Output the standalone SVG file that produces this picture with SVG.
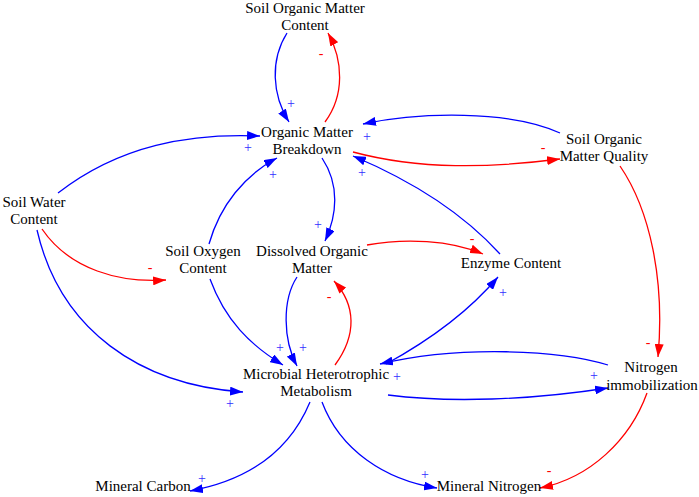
<svg xmlns="http://www.w3.org/2000/svg" width="699" height="497" viewBox="0 0 699 497">
<style>
.n{font-family:"Liberation Serif","Times New Roman",serif;font-size:15px;fill:#000;text-anchor:middle}
.b{fill:none;stroke:#0000ff;stroke-width:1.3;marker-end:url(#ab)}
.r{fill:none;stroke:#ff0000;stroke-width:1.3;marker-end:url(#ar)}
.p{font-family:"Liberation Serif","Times New Roman",serif;font-size:14px;fill:#3030ff;text-anchor:middle}
.m{font-family:"Liberation Serif","Times New Roman",serif;font-size:14px;fill:#ff0000;text-anchor:middle}
</style>
<defs>
<marker id="ab" viewBox="0 0 13 9" markerWidth="13" markerHeight="9" refX="13" refY="4.5" orient="auto" markerUnits="userSpaceOnUse"><path d="M0,0 L13,4.5 L0,9 z" fill="#0000ff"/></marker>
<marker id="ar" viewBox="0 0 13 9" markerWidth="13" markerHeight="9" refX="13" refY="4.5" orient="auto" markerUnits="userSpaceOnUse"><path d="M0,0 L13,4.5 L0,9 z" fill="#ff0000"/></marker>
</defs>
<rect width="699" height="497" fill="#fff"/>
<g id="connectors">
<path class="b" d="M287,33 C270,60 272,95 289,122"/>
<path class="r" d="M325,122 C345,95 343,60 328,33"/>
<path class="b" d="M58,193 C120,145 190,133 260,136"/>
<path class="b" d="M209,244 C220,205 245,175 277,158"/>
<path class="b" d="M322,158 C340,185 337,215 325,241"/>
<path class="b" d="M560,133 C510,110 420,112 363,124"/>
<path class="r" d="M353,152 C420,170 490,168 560,159"/>
<path class="b" d="M500,254 C460,210 410,180 353,156"/>
<path class="r" d="M42,229 C70,270 120,283 166,280"/>
<path class="b" d="M37,230 C60,330 140,385 243,392"/>
<path class="b" d="M210,279 C225,320 250,345 283,365"/>
<path class="b" d="M297,277 C282,300 283,340 297,366"/>
<path class="r" d="M335,365 C357,335 356,305 334,281"/>
<path class="r" d="M367,245 C405,238 450,240 483,254"/>
<path class="b" d="M386,364 C430,340 470,310 498,277"/>
<path class="b" d="M608,365 C560,350 460,345 380,364"/>
<path class="b" d="M388,395 C450,403 530,400 608,388"/>
<path class="r" d="M620,166 C650,210 665,280 658,357"/>
<path class="b" d="M310,402 C290,450 250,480 190,491"/>
<path class="b" d="M322,402 C340,450 385,480 437,488"/>
<path class="r" d="M647,393 C630,440 590,478 540,488"/>
<g id="polarities">
<text class="p" x="291" y="108">+</text>
<text class="m" x="321" y="58">-</text>
<text class="p" x="248" y="152">+</text>
<text class="p" x="273" y="179">+</text>
<text class="p" x="318" y="229">+</text>
<text class="p" x="367" y="141">+</text>
<text class="m" x="543" y="152">-</text>
<text class="p" x="362" y="177">+</text>
<text class="m" x="150" y="272">-</text>
<text class="p" x="230" y="408">+</text>
<text class="p" x="280" y="352">+</text>
<text class="p" x="303" y="352">+</text>
<text class="m" x="329" y="301">-</text>
<text class="m" x="472" y="243">-</text>
<text class="p" x="503" y="297">+</text>
<text class="p" x="397" y="381">+</text>
<text class="p" x="594" y="380">+</text>
<text class="m" x="648" y="347">-</text>
<text class="p" x="202" y="483">+</text>
<text class="p" x="425" y="479">+</text>
<text class="m" x="549" y="475">-</text>
</g>
</g>
<g id="soil-organic-matter-content"><text class="n" x="305" y="13">Soil Organic Matter</text><text class="n" x="305" y="30">Content</text></g>
<g id="organic-matter-breakdown"><text class="n" x="307" y="137">Organic Matter</text><text class="n" x="307" y="154">Breakdown</text></g>
<g id="soil-organic-matter-quality"><text class="n" x="604" y="144">Soil Organic</text><text class="n" x="604" y="161">Matter Quality</text></g>
<g id="soil-water-content"><text class="n" x="34" y="207">Soil Water</text><text class="n" x="34" y="224">Content</text></g>
<g id="soil-oxygen-content"><text class="n" x="203" y="256">Soil Oxygen</text><text class="n" x="203" y="273">Content</text></g>
<g id="dissolved-organic-matter"><text class="n" x="312" y="256">Dissolved Organic</text><text class="n" x="312" y="273">Matter</text></g>
<g id="enzyme-content"><text class="n" x="511" y="268">Enzyme Content</text></g>
<g id="microbial-heterotrophic-metabolism"><text class="n" x="316" y="379">Microbial Heterotrophic</text><text class="n" x="316" y="396">Metabolism</text></g>
<g id="nitrogen-immobilization"><text class="n" x="651" y="372">Nitrogen</text><text class="n" x="652" y="390">immobilization</text></g>
<g id="mineral-carbon"><text class="n" x="143" y="491">Mineral Carbon</text></g>
<g id="mineral-nitrogen"><text class="n" x="489" y="491">Mineral Nitrogen</text></g>
</svg>
